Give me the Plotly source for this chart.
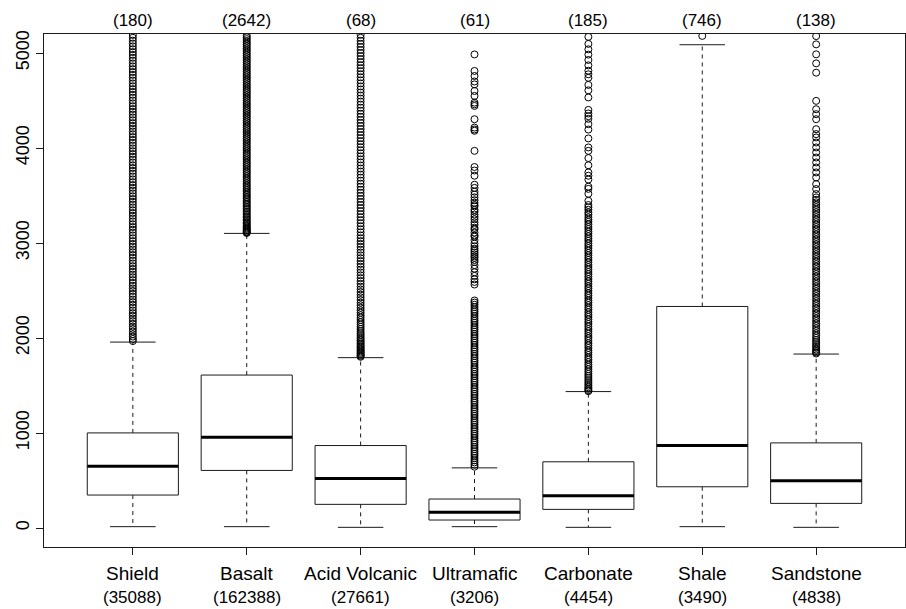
import plotly.graph_objects as go

categories = ["Shield", "Basalt", "Acid Volcanic", "Ultramafic", "Carbonate", "Shale", "Sandstone"]
sample_sizes = [35088, 162388, 27661, 3206, 4454, 3490, 4838]
above_counts = [180, 2642, 68, 61, 185, 746, 138]

q1 = [347, 606, 249, 84, 196, 434, 259]
median = [651, 956, 522, 165, 339, 868, 497]
q3 = [1001, 1610, 868, 305, 697, 2332, 896]
lower_whisker = [14, 14, 7, 14, 7, 14, 7]
upper_whisker = [1957, 3101, 1793, 633, 1436, 5087, 1831]

out_shield = [1968, 1990, 2015, 2040, 2068, 2095, 2120, 2150, 2178, 2205, 2235, 2262, 2290, 2320, 2350,
              2378, 2405, 2436, 2465, 2495, 2522, 2550, 2580, 2610, 2640, 2668, 2698, 2727, 2756, 2785,
              2815, 2845, 2874, 2903, 2932, 2962, 2990, 3020, 3050, 3080, 3110, 3140, 3168, 3197, 3228,
              3258, 3287, 3316, 3345, 3375, 3405, 3434, 3463, 3492, 3522, 3552, 3581, 3610, 3640, 3670,
              3700, 3730, 3760, 3790, 3818, 3848, 3878, 3908, 3937, 3966, 3996, 4026, 4055, 4085, 4115,
              4145, 4174, 4204, 4233, 4262, 4292, 4322, 4352, 4381, 4410, 4440, 4470, 4500, 4530, 4560,
              4590, 4620, 4650, 4680, 4710, 4740, 4770, 4800, 4830, 4860, 4890, 4920, 4950, 4980, 5010,
              5040, 5070, 5100, 5130, 5160, 5190]
out_basalt = [3105, 3112, 3120, 3131, 3140, 3152, 3163, 3175, 3190, 3204, 3218, 3233, 3250, 3266, 3281,
              3297, 3315, 3330, 3348, 3365, 3380, 3398, 3415, 3432, 3450, 3468, 3485, 3503, 3520, 3540,
              3558, 3575, 3594, 3612, 3630, 3650, 3668, 3687, 3705, 3724, 3742, 3760, 3780, 3800, 3818,
              3837, 3855, 3875, 3893, 3912, 3930, 3950, 3970, 3988, 4006, 4025, 4045, 4063, 4082, 4100,
              4120, 4140, 4158, 4177, 4196, 4215, 4234, 4253, 4272, 4290, 4310, 4330, 4348, 4367, 4386,
              4405, 4424, 4443, 4462, 4480, 4500, 4520, 4538, 4557, 4576, 4595, 4614, 4633, 4652, 4670,
              4690, 4710, 4728, 4747, 4766, 4785, 4804, 4823, 4842, 4860, 4880, 4900, 4918, 4937, 4956,
              4975, 4994, 5013, 5032, 5050, 5070, 5090, 5108, 5127, 5146, 5165, 5184]
out_acid = [1802, 1812, 1822, 1833, 1845, 1858, 1870, 1884, 1898, 1912, 1927, 1942, 1958, 1975, 1992,
            2010, 2030, 2050, 2072, 2095, 2118, 2142, 2166, 2190, 2215, 2240, 2266, 2292, 2318, 2345,
            2372, 2400, 2428, 2456, 2484, 2512, 2540, 2570, 2600, 2630, 2660, 2690, 2720, 2750, 2780,
            2810, 2840, 2870, 2900, 2930, 2960, 2990, 3020, 3050, 3080, 3112, 3144, 3176, 3208, 3240,
            3272, 3304, 3336, 3368, 3400, 3432, 3464, 3496, 3528, 3560, 3592, 3624, 3656, 3688, 3720,
            3752, 3784, 3816, 3848, 3880, 3912, 3944, 3976, 4008, 4040, 4072, 4104, 4136, 4168, 4200,
            4232, 4264, 4296, 4328, 4360, 4392, 4424, 4456, 4488, 4520, 4552, 4584, 4616, 4648, 4680,
            4712, 4744, 4776, 4808, 4840, 4872, 4904, 4936, 4968, 5000, 5032, 5064, 5096, 5128, 5160, 5192]
out_ultramafic = [4985, 4811, 4758, 4700, 4670, 4600, 4548, 4478, 4460, 4443, 4303, 4215, 4195, 4181,
                  3970, 3800, 3763, 3708, 3613, 3580, 3540, 3510, 3481, 3450, 3424, 3400, 3386, 3350,
                  3330, 3300, 3274, 3250, 3218, 3190, 3160, 3143, 3110, 3080, 3067, 3030, 2993, 2965,
                  2940, 2920, 2900, 2880, 2860, 2843, 2820, 2800, 2767, 2730, 2692, 2654, 2617, 2590,
                  2563, 2395, 2373, 2350, 2325, 2300, 2278, 2255, 2230, 2205, 2182, 2160, 2136, 2112,
                  2090, 2066, 2042, 2020, 1996, 1972, 1950, 1926, 1902, 1880, 1856, 1832, 1810, 1786,
                  1762, 1740, 1716, 1692, 1670, 1646, 1622, 1600, 1576, 1552, 1530, 1506, 1482, 1460,
                  1436, 1412, 1390, 1366, 1342, 1320, 1296, 1272, 1250, 1226, 1202, 1180, 1156, 1132,
                  1110, 1086, 1062, 1040, 1016, 992, 970, 946, 922, 900, 876, 852, 830, 806, 782, 760,
                  736, 712, 690, 666, 645]
out_carbonate = [5170, 5096, 5039, 4983, 4927, 4870, 4814, 4776, 4739, 4664, 4607, 4532, 4401, 4363,
                 4335, 4307, 4251, 4194, 4101, 4006, 3970, 3894, 3818, 3743, 3708, 3668, 3593, 3570,
                 3518, 3444, 3400, 3375, 3350, 3322, 3298, 3270, 3245, 3222, 3196, 3170, 3147, 3120,
                 3096, 3071, 3045, 3022, 2995, 2970, 2946, 2920, 2896, 2871, 2845, 2822, 2796, 2770,
                 2746, 2721, 2695, 2672, 2646, 2620, 2597, 2571, 2545, 2522, 2496, 2470, 2447, 2421,
                 2395, 2372, 2346, 2320, 2297, 2271, 2245, 2222, 2196, 2170, 2147, 2121, 2095, 2072,
                 2046, 2020, 1997, 1971, 1945, 1922, 1896, 1870, 1847, 1821, 1795, 1772, 1746, 1720,
                 1697, 1671, 1647, 1622, 1600, 1578, 1556, 1535, 1516, 1498, 1481, 1465, 1451, 1440]
out_shale = [5180]
out_sandstone = [5178, 5091, 4986, 4891, 4793, 4496, 4408, 4356, 4303, 4198, 4146, 4111, 4058, 4006,
                 3953, 3900, 3848, 3795, 3743, 3690, 3620, 3568, 3515, 3480, 3455, 3428, 3402, 3377,
                 3350, 3324, 3298, 3272, 3246, 3220, 3194, 3168, 3142, 3116, 3090, 3064, 3038, 3012,
                 2986, 2960, 2934, 2908, 2882, 2856, 2830, 2804, 2778, 2752, 2726, 2700, 2674, 2648,
                 2622, 2596, 2570, 2544, 2518, 2492, 2466, 2440, 2414, 2388, 2362, 2336, 2310, 2284,
                 2258, 2232, 2206, 2180, 2154, 2128, 2102, 2076, 2050, 2025, 2001, 1978, 1956, 1935,
                 1915, 1896, 1878, 1862, 1848, 1837]

outliers = [out_shield, out_basalt, out_acid, out_ultramafic, out_carbonate, out_shale, out_sandstone]

y_ticks = [0, 1000, 2000, 3000, 4000, 5000]

FONT = "Liberation Sans, Arial, Helvetica, sans-serif"
BOX_HALF = 0.4
CAP_HALF = 0.2
LINE_COL = "#1a1a1a"

pos = list(range(1, len(categories) + 1))

box_x, box_y = [], []
med_x, med_y = [], []
wh_x, wh_y = [], []
cap_x, cap_y = [], []
for i, p in enumerate(pos):
    box_x += [p - BOX_HALF, p + BOX_HALF, p + BOX_HALF, p - BOX_HALF, p - BOX_HALF, None]
    box_y += [q1[i], q1[i], q3[i], q3[i], q1[i], None]
    med_x += [p - BOX_HALF, p + BOX_HALF, None]
    med_y += [median[i], median[i], None]
    wh_x += [p, p, None, p, p, None]
    wh_y += [q3[i], upper_whisker[i], None, q1[i], lower_whisker[i], None]
    cap_x += [p - CAP_HALF, p + CAP_HALF, None, p - CAP_HALF, p + CAP_HALF, None]
    cap_y += [upper_whisker[i], upper_whisker[i], None, lower_whisker[i], lower_whisker[i], None]

fig = go.Figure()
fig.add_trace(go.Scatter(x=wh_x, y=wh_y, mode="lines",
                         line=dict(color=LINE_COL, width=1, dash="4px,4px"), hoverinfo="skip"))
fig.add_trace(go.Scatter(x=cap_x, y=cap_y, mode="lines",
                         line=dict(color=LINE_COL, width=1), hoverinfo="skip"))
fig.add_trace(go.Scatter(x=box_x, y=box_y, mode="lines",
                         line=dict(color=LINE_COL, width=1), hoverinfo="skip"))
fig.add_trace(go.Scatter(x=med_x, y=med_y, mode="lines",
                         line=dict(color="black", width=3), hoverinfo="skip"))

ox, oy = [], []
for i, p in enumerate(pos):
    ox += [p] * len(outliers[i])
    oy += outliers[i]
fig.add_trace(go.Scatter(x=ox, y=oy, mode="markers",
                         marker=dict(symbol="circle-open", size=7, color="black",
                                     line=dict(width=1, color="black")),
                         hoverinfo="skip"))

annotations = []
for i, p in enumerate(pos):
    annotations.append(dict(x=p, y=1, xref="x", yref="paper", yshift=14, yanchor="middle",
                            text=f"({above_counts[i]})", showarrow=False,
                            font=dict(family=FONT, size=17, color="black")))
    annotations.append(dict(x=p, y=0, xref="x", yref="paper", yshift=-26, yanchor="middle",
                            text=categories[i], showarrow=False,
                            font=dict(family=FONT, size=19, color="black")))
    annotations.append(dict(x=p, y=0, xref="x", yref="paper", yshift=-50, yanchor="middle",
                            text=f"({sample_sizes[i]})", showarrow=False,
                            font=dict(family=FONT, size=17, color="black")))

fig.update_layout(
    width=906, height=609,
    margin=dict(l=44, r=1, t=34, b=62),
    paper_bgcolor="white", plot_bgcolor="white",
    showlegend=False,
    annotations=annotations,
    font=dict(family=FONT, color="black"),
    xaxis=dict(range=[0.22, len(categories) + 0.78], tickvals=pos, ticktext=[""] * len(pos),
               ticks="outside", ticklen=7, tickcolor=LINE_COL, showgrid=False, zeroline=False,
               showline=True, mirror=True, linecolor=LINE_COL, linewidth=1, fixedrange=True),
    yaxis=dict(range=[-200, 5200], tickvals=y_ticks, ticktext=[str(v) for v in y_ticks],
               ticks="outside", ticklen=7, tickcolor=LINE_COL, tickangle=-90,
               tickfont=dict(family=FONT, size=18, color="black"),
               showgrid=False, zeroline=False,
               showline=True, mirror=True, linecolor=LINE_COL, linewidth=1, fixedrange=True),
)

fig.write_html("out.html")
